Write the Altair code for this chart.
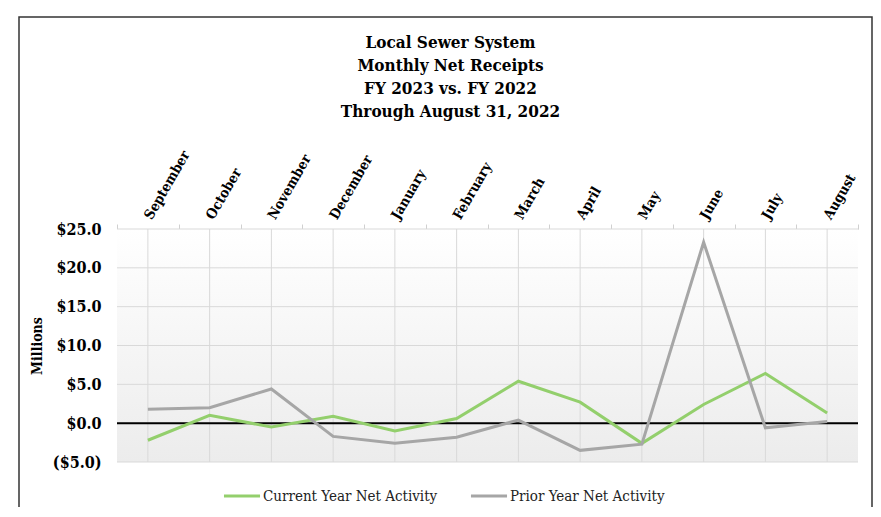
import altair as alt
import pandas as pd

months = ["September", "October", "November", "December", "January", "February",
          "March", "April", "May", "June", "July", "August"]
current_year = [-2.2, 1.0, -0.5, 0.9, -1.0, 0.6, 5.4, 2.7, -2.6, 2.4, 6.4, 1.3]
prior_year = [1.8, 2.0, 4.4, -1.7, -2.6, -1.8, 0.4, -3.5, -2.7, 23.3, -0.6, 0.2]
series_names = ["Current Year Net Activity", "Prior Year Net Activity"]
y_ticks = [-5, 0, 5, 10, 15, 20, 25]
title_lines = ["Local Sewer System", "Monthly Net Receipts", "FY 2023 vs. FY 2022",
               "Through August 31, 2022"]

rows = []
for m, c, p in zip(months, current_year, prior_year):
    rows.append({"month": m, "series": series_names[0], "value": c})
    rows.append({"month": m, "series": series_names[1], "value": p})
df = pd.DataFrame(rows)
mdf = pd.DataFrame({"month": months})
tdf = pd.DataFrame({"tick": y_ticks})
one = pd.DataFrame({"a": [0]})

FONT = "DejaVu Serif Condensed, DejaVu Serif, Liberation Serif, serif"

xscale = alt.Scale(domain=months, paddingInner=0, paddingOuter=0)
yscale = alt.Scale(domain=[-5, 25], nice=False, zero=False)

y_label_expr = ("datum.value < 0 ? '($' + format(-datum.value, '.1f') + ')' : "
                "'$' + format(datum.value, '.1f')")

y_axis = alt.Axis(title="Millions", values=y_ticks, grid=False,
                  labelExpr=y_label_expr, labelFont=FONT, labelFontSize=16,
                  labelFontWeight="bold", labelColor="#000", ticks=False,
                  labelOverlap=False, domain=False, labelPadding=16,
                  titleFont=FONT, titleFontSize=14, titleFontWeight="bold",
                  titleColor="#000", titlePadding=8)

x_axis = alt.Axis(orient="top", title=None, labelAngle=-60, labelAlign="left",
                  labelBaseline="middle", labelFont=FONT, labelFontSize=14,
                  labelFontWeight="bold", labelColor="#000", labelPadding=6,
                  labelOverlap=False, tickBand="extent", ticks=True, tickSize=5,
                  tickColor="#d0d0d0", domainColor="#d9d9d9", grid=False)

bg = alt.Chart(one).mark_rect(
    color=alt.Gradient(gradient="linear", x1=0, x2=0, y1=0, y2=1,
                       stops=[alt.GradientStop(color="#ffffff", offset=0),
                              alt.GradientStop(color="#ececec", offset=1)])
).encode(x=alt.value(0), x2=alt.value(741),
         y=alt.Y("datum_top:Q", scale=yscale, axis=y_axis),
         ).transform_calculate(datum_top="25", datum_bot="-5").encode(
    y2="datum_bot:Q")

hgrid = alt.Chart(tdf).mark_rule(color="#d9d9d9", strokeWidth=1).encode(
    y=alt.Y("tick:Q", scale=yscale, axis=y_axis))

vgrid = alt.Chart(mdf).mark_rule(color="#d9d9d9", strokeWidth=1).encode(
    x=alt.X("month:N", scale=xscale, sort=months, axis=x_axis),
)

lines = alt.Chart(df).mark_line(strokeWidth=3).encode(
    x=alt.X("month:N", scale=xscale, sort=months, axis=x_axis),
    y=alt.Y("value:Q", scale=yscale, axis=y_axis),
    color=alt.Color("series:N",
                    scale=alt.Scale(domain=series_names, range=["#93cf6c", "#a6a6a6"]),
                    legend=alt.Legend(orient="none", direction="horizontal", title=None,
                                      legendX=105, legendY=247, symbolType="stroke",
                                      symbolSize=1300, symbolStrokeWidth=3,
                                      labelFont=FONT, labelFontSize=15, labelColor="#222",
                                      labelOffset=1, columnPadding=26, labelLimit=300)),
)

zero = alt.Chart(one).mark_rule(color="#000", strokeWidth=2).encode(
    y=alt.Y("z:Q", scale=yscale, axis=y_axis)).transform_calculate(z="0")

frame = alt.Chart(one).mark_rect(fill=None, stroke="#333", strokeWidth=1.5).encode(
    x=alt.value(-98), x2=alt.value(755), y=alt.value(-212), y2=alt.value(320))

chart = alt.layer(bg, hgrid, vgrid, zero, lines, frame).properties(
    width=741, height=233,
    padding={"left": 109, "top": 221, "right": 15, "bottom": 45},
    autosize=alt.AutoSizeParams(type="none"),
    title=alt.TitleParams(text=title_lines, anchor="middle", frame="group", dx=-37,
                          font=FONT, fontSize=17, fontWeight="bold", color="#000",
                          lineHeight=23, offset=-105),
).configure_view(stroke=None)

chart.save("out.html", embed_options={"renderer": "svg", "actions": False})
